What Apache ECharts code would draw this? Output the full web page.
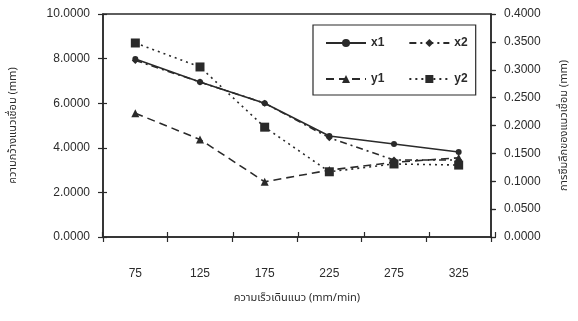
<!DOCTYPE html>
<html>
<head>
<meta charset="utf-8">
<script src="https://cdn.jsdelivr.net/npm/echarts@6/dist/echarts.min.js"></script>
<style>
html, body { margin: 0; padding: 0; background: #ffffff; }
#chart { width: 578px; height: 321px; }
</style>
</head>
<body>
<div id="chart"></div>
<script>
// Welding speed categories (mm/min)
const speeds = ['75', '125', '175', '225', '275', '325'];
// Bead width (mm), left axis
const x1 = [7.98, 6.95, 6.00, 4.53, 4.17, 3.81];
const x2 = [7.92, 6.95, 6.00, 4.45, 3.45, 3.45];
// Penetration depth (mm), right axis
const y1 = [0.222, 0.175, 0.099, 0.120, 0.134, 0.142];
const y2 = [0.348, 0.305, 0.197, 0.117, 0.131, 0.129];

const ink = '#2a2a2a';
const textColor = '#2b2b2b';
const numFont = 'Liberation Sans, Arial, sans-serif';
const thaiFont = 'Noto Sans Thai, Noto Sans, DejaVu Sans, sans-serif';

const chart = echarts.init(document.getElementById('chart'));

// Each axis is drawn twice: the primary copy (grid 0) carries the line, labels
// and outward ticks; the secondary copy (grid 1, same box) adds inward ticks
// so the tick marks cross the axis line.
const box = { left: 102, right: 83, top: 14, bottom: 84 };

function axisLineStyle(primary) {
  return { show: true, onZero: false,
    lineStyle: { color: primary ? ink : 'rgba(0,0,0,0)', width: 1.5 } };
}
function tickStyle(primary) {
  return { show: true, inside: !primary, length: 5,
    lineStyle: { color: ink, width: 1.2, opacity: 1 } };
}

function leftAxis(primary) {
  return {
    gridIndex: primary ? 0 : 1,
    type: 'value', position: 'left', min: 0, max: 10, interval: 2,
    name: primary ? 'ความกว้างแนวเชื่อม (mm)' : '',
    nameLocation: 'middle', nameRotate: 90, nameGap: 84,
    nameTextStyle: { fontFamily: thaiFont, fontSize: 11, color: textColor },
    axisLine: axisLineStyle(primary),
    axisTick: tickStyle(primary),
    axisLabel: { show: primary, margin: 13, fontFamily: numFont, fontSize: 12, color: textColor,
      formatter: v => v.toFixed(4) },
    splitLine: { show: false }
  };
}
function rightAxis(primary) {
  return {
    gridIndex: primary ? 0 : 1,
    type: 'value', position: 'right', min: 0, max: 0.4, interval: 0.05,
    name: primary ? 'การซึมลึกของแนวเชื่อม (mm)' : '',
    nameLocation: 'middle', nameRotate: 90, nameGap: 68,
    nameTextStyle: { fontFamily: thaiFont, fontSize: 11, color: textColor },
    axisLine: axisLineStyle(primary),
    axisTick: tickStyle(primary),
    axisLabel: { show: primary, margin: 13, fontFamily: numFont, fontSize: 12, color: textColor,
      formatter: v => v.toFixed(4) },
    splitLine: { show: false }
  };
}
function catAxis(primary) {
  return {
    gridIndex: primary ? 0 : 1,
    type: 'category', position: 'bottom', data: speeds, boundaryGap: true,
    name: primary ? 'ความเร็วเดินแนว (mm/min)' : '',
    nameLocation: 'middle', nameGap: 56,
    nameTextStyle: { fontFamily: thaiFont, fontSize: 11, color: textColor },
    axisLine: axisLineStyle(primary),
    axisTick: tickStyle(primary),
    axisLabel: { show: primary, margin: 31, fontFamily: numFont, fontSize: 12, color: textColor },
    splitLine: { show: false }
  };
}

function lineSeries(name, data, yIndex, symbol, size, dash) {
  return {
    name, type: 'line', data, xAxisIndex: 0, yAxisIndex: yIndex,
    symbol, symbolSize: size, showSymbol: true,
    lineStyle: { color: ink, width: 1.6, type: dash },
    itemStyle: { color: ink },
    animation: false
  };
}

chart.setOption({
  backgroundColor: '#ffffff',
  animation: false,
  grid: [
    Object.assign({ show: true, borderColor: ink, borderWidth: 1.5, backgroundColor: 'transparent' }, box),
    Object.assign({ show: false }, box)
  ],
  legend: {
    left: 313, top: 25, width: 161,
    padding: [12, 8, 10, 12],
    itemWidth: 40, itemHeight: 10, itemGap: 24,
    borderColor: ink, borderWidth: 1.2, borderRadius: 0,
    textStyle: { fontFamily: numFont, fontSize: 12, color: textColor, fontWeight: 'bold' },
    data: ['x1', 'x2', 'y1', 'y2']
  },
  xAxis: [catAxis(true), catAxis(false)],
  yAxis: [leftAxis(true), rightAxis(true), leftAxis(false), rightAxis(false)],
  series: [
    lineSeries('x1', x1, 0, 'circle', 6, 'solid'),
    lineSeries('x2', x2, 0, 'diamond', 7, [7, 4, 2, 4]),
    lineSeries('y1', y1, 1, 'triangle', 8, [8, 5]),
    lineSeries('y2', y2, 1, 'rect', 9, [2, 4])
  ]
});
</script>
</body>
</html>
